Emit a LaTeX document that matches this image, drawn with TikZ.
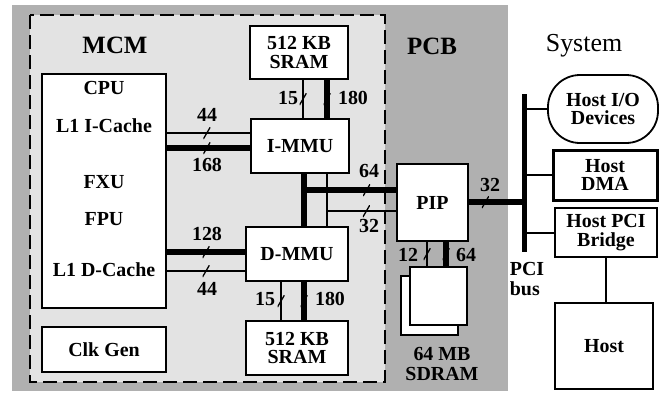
\documentclass[tikz,border=0pt]{standalone}
\usepackage{fontspec}
\setmainfont{Liberation Serif}
\begin{document}
\begin{tikzpicture}[x=1bp,y=-1bp,
  box/.style={draw, line width=1.8bp, fill=white, inner sep=0pt, align=center, font=\fontsize{20}{19}\selectfont\bfseries},
  lbl/.style={inner sep=0pt, align=center, font=\fontsize{20}{20}\selectfont\bfseries},
  bigl/.style={inner sep=0pt, font=\fontsize{25}{25}\selectfont},
  thinw/.style={line width=1.6bp},
  thickw/.style={line width=5.5bp},
  busw/.style={line width=2bp},
  slashmark/.style={inner sep=0pt, minimum width=7bp, minimum height=12bp,
    path picture={\draw[line width=1.3bp] (path picture bounding box.south west) -- (path picture bounding box.north east);}},
]
\useasboundingbox (0,0) rectangle (660,392);
% regions
\fill[gray!62] (12,5) rectangle (508,391);
\fill[gray!22] (30,15) rectangle (385,382);
\draw[line width=2bp, dash pattern=on 14bp off 6bp] (30,15) rectangle (385,382);

\node[bigl, font=\fontsize{25}{25}\selectfont\bfseries] (mcm) at (115,45) {MCM};
\node[bigl, font=\fontsize{25}{25}\selectfont\bfseries] (pcb) at (432,46) {PCB};
\node[bigl, font=\fontsize{26}{26}\selectfont] (sys) at (584,46) {System};

% boxes
\node[box, minimum width=98bp, minimum height=53bp] (sramt) at (299,52.5) {512 KB\\SRAM};
\node[box, minimum width=98bp, minimum height=54bp] (immu) at (300,146) {I-MMU};
\node[box, minimum width=102bp, minimum height=54bp] (dmmu) at (297,254) {D-MMU};
\node[box, minimum width=102bp, minimum height=54bp] (sramb) at (297,348) {512 KB\\SRAM};
\node[box, minimum width=124bp, minimum height=234bp] (cpu) at (104,191) {};
\node[box, minimum width=124bp, minimum height=45bp] (clk) at (104,349.5) {Clk Gen};
\node[lbl] (tcpu) at (104,88) {CPU};
\node[lbl] (ticache) at (104,126) {L1 I-Cache};
\node[lbl] (tfxu) at (104,182) {FXU};
\node[lbl] (tfpu) at (104,219) {FPU};
\node[lbl] (tdcache) at (104,270) {L1 D-Cache};

\node[box, minimum width=71bp, minimum height=77bp] (pip) at (432.5,202.5) {PIP};
\node[box, minimum width=57bp, minimum height=59bp] (sdb) at (429.5,305.5) {};
\node[box, minimum width=57bp, minimum height=58bp] (sdf) at (438.5,296) {};
\node[lbl, font=\fontsize{20}{21}\selectfont\bfseries] (sdlbl) at (442,364) {64 MB\\SDRAM};

\node[box, rounded corners=32bp, minimum width=110bp, minimum height=68bp] (hio) at (603,109) {Host I/O\\Devices};
\node[box, line width=3bp, minimum width=104bp, minimum height=50bp] (dma) at (605,175) {Host\\DMA};
\node[box, minimum width=102bp, minimum height=49bp] (bridge) at (606,232.5) {Host PCI\\Bridge};
\node[box, minimum width=98bp, minimum height=86bp] (host) at (604,346) {Host};

% rail coordinates
\coordinate (ya) at (0,133);
\coordinate (yb) at (0,148);
\coordinate (yc) at (0,252);
\coordinate (yd) at (0,271);
\coordinate (ye) at (0,190);
\coordinate (yf) at (0,211);
\coordinate (yg) at (0,202);
\coordinate (xa) at (303,0);
\coordinate (xb) at (327,0);
\coordinate (xc) at (304,0);
\coordinate (xd) at (281,0);
\coordinate (xe) at (427,0);
\coordinate (xf) at (446,0);
\coordinate (bustop) at (524,94);
\coordinate (busbot) at (524,252);

% CPU <-> MMUs
\draw[thinw] (cpu.east |- ya) -- node[slashmark, pos=0.48]{} (immu.west |- ya);
\draw[thickw] (cpu.east |- yb) -- node[slashmark, pos=0.48]{} (immu.west |- yb);
\draw[thickw] (cpu.east |- yc) -- node[slashmark, pos=0.5]{} (dmmu.west |- yc);
\draw[thinw] (cpu.east |- yd) -- node[slashmark, pos=0.5]{} (dmmu.west |- yd);
\node[lbl] (l44a) at (207,115) {44};
\node[lbl] (l168) at (207,165) {168};
\node[lbl] (l128) at (207,234) {128};
\node[lbl] (l44b) at (207,289) {44};

% SRAM top <-> I-MMU
\draw[thinw] (sramt.south -| xa) -- node[slashmark]{} (immu.north -| xa);
\draw[thickw] (sramt.south -| xb) -- node[slashmark]{} (immu.north -| xb);
\node[lbl] (l15a) at (288,98) {15};
\node[lbl] (l180a) at (353,98) {180};

% I-MMU <-> D-MMU and to PIP
\draw[thickw] (immu.south -| xc) -- (dmmu.north -| xc);
\draw[thinw] (immu.south -| xb) -- (dmmu.north -| xb);
\draw[thickw] (xc |- ye) -- node[slashmark, pos=0.68]{} (pip.west |- ye);
\draw[thinw] (xb |- yf) -- node[slashmark, pos=0.57]{} (pip.west |- yf);
\node[lbl] (l64a) at (369,171) {64};
\node[lbl] (l32a) at (369,226) {32};

% D-MMU <-> SRAM bottom
\draw[thinw] (dmmu.south -| xd) -- node[slashmark]{} (sramb.north -| xd);
\draw[thickw] (dmmu.south -| xc) -- node[slashmark]{} (sramb.north -| xc);
\node[lbl] (l15b) at (265,299) {15};
\node[lbl] (l180b) at (330,299) {180};

% PIP <-> SDRAM
\draw[thinw] (pip.south -| xe) -- node[slashmark]{} (sdf.north -| xe);
\draw[thickw] (pip.south -| xf) -- node[slashmark]{} (sdf.north -| xf);
\node[lbl] (l12) at (408,255) {12};
\node[lbl] (l64b) at (466,255) {64};

% PIP <-> PCI bus
\draw[thickw] (pip.east |- yg) -- node[slashmark, pos=0.3]{} (bustop |- yg);
\node[lbl] (l32b) at (490,185) {32};

% PCI bus
\draw[line width=5bp] (bustop) -- (busbot);
\node[lbl, align=left] (pcilbl) at (527,279) {PCI\\bus};
\draw[busw] (bustop |- hio.west) -- (hio.west);
\draw[busw] (bustop |- dma.west) -- (dma.west);
\draw[busw] (bustop |- bridge.west) -- (bridge.west);
\draw[busw] (bridge.south) -- (bridge.south |- host.north);
\end{tikzpicture}
\end{document}
